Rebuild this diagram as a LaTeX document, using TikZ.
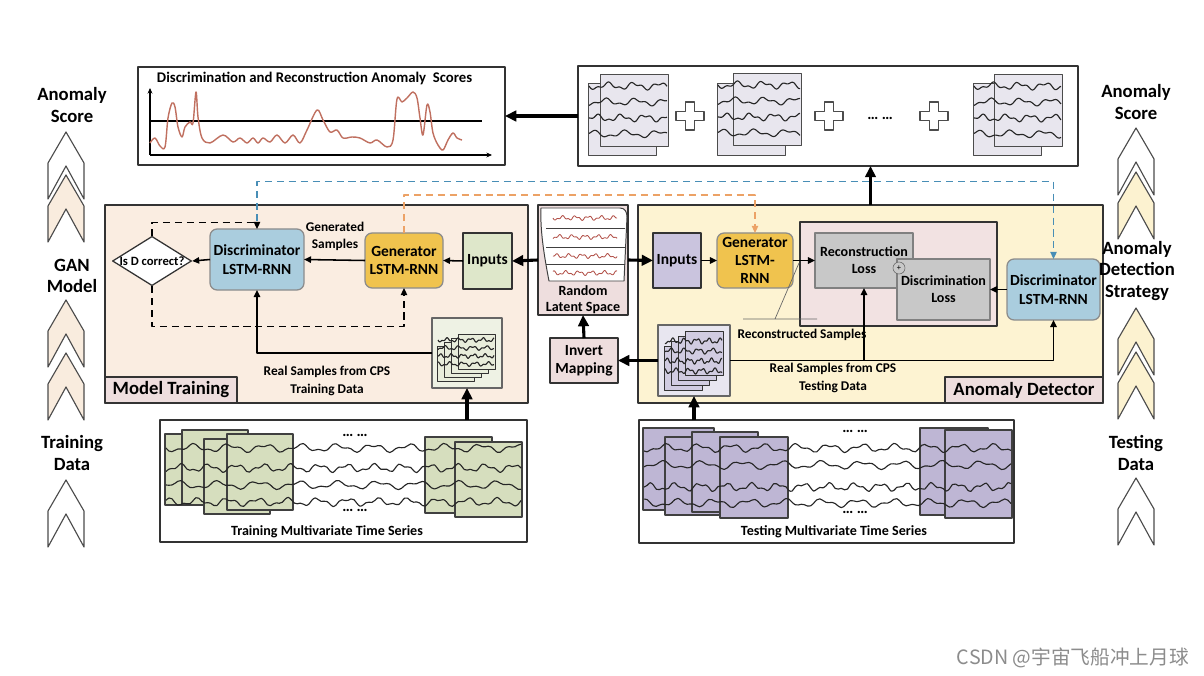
\documentclass[tikz,border=0pt]{standalone}
\usepackage{fontspec}
\setmainfont{Carlito}
\newfontfamily\wmfont{Noto Sans CJK SC}
\usetikzlibrary{arrows.meta,shapes.geometric}

\definecolor{trainbg}{RGB}{250,237,225}
\definecolor{detbg}{RGB}{253,243,210}
\definecolor{labbg}{RGB}{238,222,222}
\definecolor{lossbg}{RGB}{242,226,226}
\definecolor{lossfg}{RGB}{200,200,200}
\definecolor{discC}{RGB}{170,205,222}
\definecolor{genC}{RGB}{240,195,78}
\definecolor{inLC}{RGB}{222,231,202}
\definecolor{inRC}{RGB}{202,196,222}
\definecolor{chevL}{RGB}{249,236,222}
\definecolor{chevR}{RGB}{252,242,208}
\definecolor{pgTr}{RGB}{214,222,190}
\definecolor{pgTe}{RGB}{190,182,212}
\definecolor{pgSc}{RGB}{232,230,238}
\definecolor{icTrC}{RGB}{238,242,228}
\definecolor{icTeC}{RGB}{232,230,240}
\definecolor{curveC}{RGB}{192,112,96}
\definecolor{latC}{RGB}{178,80,72}
\definecolor{bdash}{RGB}{72,142,182}
\definecolor{odash}{RGB}{236,162,102}

\tikzset{
  box/.style={draw=black!80, line width=0.9pt, inner sep=0pt, outer sep=0pt},
  sz/.style 2 args={minimum width=#1*0.025cm, minimum height=#2*0.025cm},
  modbox/.style={box, draw=black!45, rounded corners=5pt, align=center, font=\fontsize{11}{13}\selectfont\bfseries},
  lossbox/.style={box, draw=black!50, fill=lossfg, align=center, font=\fontsize{10}{12}\selectfont\bfseries},
  bigtxt/.style={align=center, font=\fontsize{13.3}{15.2}\selectfont\bfseries},
  modtxt/.style={align=center, font=\fontsize{11}{13}\selectfont\bfseries},
  smalltxt/.style={align=center, font=\fontsize{9.5}{12.2}\selectfont\bfseries},
  dotstxt/.style={font=\fontsize{11}{11}\selectfont\bfseries},
  thk/.style={line width=2.2pt, -{Triangle[length=8pt,width=7.5pt]}},
  thn/.style={line width=1.1pt, -{Triangle[length=5pt,width=4.5pt]}},
  dsh/.style={line width=0.9pt, dash pattern=on 5pt off 3.5pt},
  wave/.style={line width=0.8pt, black!85},
  latw/.style={line width=0.6pt, latC},
}

% chevron: centre x, apex y, fill
\newcommand{\chev}[3]{\filldraw[fill=#3,draw=black!70,line width=0.8pt] (#1-18,#2+31) -- (#1,#2) -- (#1+18,#2+31) -- (#1+18,#2+67) -- (#1,#2+34) -- (#1-18,#2+67) -- cycle;}
% outlined plus sign
\newcommand{\crs}[2]{\filldraw[fill=white,draw=black!70,line width=0.8pt] (#1-4.5,#2-14) -- (#1+4.5,#2-14) -- (#1+4.5,#2-4.5) -- (#1+14,#2-4.5) -- (#1+14,#2+4.5) -- (#1+4.5,#2+4.5) -- (#1+4.5,#2+14) -- (#1-4.5,#2+14) -- (#1-4.5,#2+4.5) -- (#1-14,#2+4.5) -- (#1-14,#2-4.5) -- (#1-4.5,#2-4.5) -- cycle;}
% wiggly signal: [style] x1 x2 y freq phase amp
\newcommand{\wv}[7][wave]{\draw[#1] plot[domain=#2:#3,samples=120,smooth] (\x,{#4+#7*sin(#5*(\x-(#2))+#6)+0.55*#7*sin(2.3*#5*(\x-(#2))+2*#6)});}
% stack of four pages: front x, front y, w, h, dx, dy, fill
\newcommand{\stack}[7]{\foreach \k in {3,2,1,0} \filldraw[fill=#7,draw=black!80,line width=0.6pt] (#1-#5*\k,#2+#6*\k) rectangle ++(#3,#4);}

\begin{document}
\begin{tikzpicture}[x=0.025cm, y=-0.025cm, line join=round]
\fill[white] (0,0) rectangle (1204,676);
\useasboundingbox (0,0) rectangle (1204,676);

% anomaly score plot
\node (score) at (321.5,116) [box, sz={367}{98}] {};
\node (scT) at (152,78) [anchor=west, font=\fontsize{10.5}{12}\selectfont\bfseries] {Discrimination and Reconstruction Anomaly\ \ Scores};
\draw[line width=0.8pt, -{Stealth[length=4pt,width=3.5pt]}] (150,155) -- (150,88);
\draw[line width=0.8pt, -{Stealth[length=4pt,width=3.5pt]}] (150,155) -- (492,155);
\draw[line width=0.8pt] (150,121) -- (482,121);
\draw[curveC, line width=1pt] plot[smooth, tension=0.55] coordinates {(150,143) (155,138) (160,146) (165,147) (168,118) (172,103) (175,107) (178,127) (182,137) (185,127) (190,122) (193,123) (196,92) (198,117) (202,138) (210,143) (223,135) (233,142) (240,138) (247,143) (253,138) (258,143) (263,138) (270,142) (277,135) (285,143) (293,135) (300,143) (307,130) (317,110) (323,120) (330,132) (337,130) (343,138) (352,137) (360,138) (370,143) (377,140) (387,147) (393,140) (397,99) (402,102) (407,98) (413,92) (417,98) (420,118) (423,135) (427,105) (430,112) (433,133) (438,145) (443,150) (448,140) (453,133) (457,138) (462,140)};

% sample windows
\node (samp) at (828,116) [box, sz={500}{100}] {};
\foreach \bx/\fx/\fy in {588/600/74, 717/733/73, 973/994/74} {
  \filldraw[fill=pgSc,draw=black!70,line width=0.7pt] (\bx,83) rectangle ++(68,72);
  \filldraw[fill=pgSc,draw=black!70,line width=0.7pt] (\fx,\fy) rectangle ++(68,72);
  \foreach \k/\f/\p in {12/14/0, 28/12/70, 44/15/150, 60/11/230}
    \wv{\bx+1}{\fx+67}{\fy+\k}{\f}{\p}{2.6};
}
\crs{690}{116} \crs{829}{116} \crs{934}{116}
\node (sdots) at (880,118) [dotstxt] {… …};

% model training
\node (train) at (316.5,304) [box, fill=trainbg, sz={423}{198}] {};
\node (mtlab) at (171,390) [box, fill=labbg, sz={132}{26}, bigtxt] {Model Training};
\node (dia) at (152,261) [diamond, draw=black!80, line width=0.9pt, aspect=1.6, inner sep=0pt, fill=white, font=\fontsize{9}{10}\selectfont\bfseries] {Is D correct?};
\node (disL) at (257,259.5) [modbox, fill=discC, sz={94}{61}] {Discriminator\\LSTM-RNN};
\node (genL) at (404,260.5) [modbox, fill=genC, sz={78}{55}] {Generator\\LSTM-RNN};
\node (inL) at (487.5,261) [box, fill=inLC, sz={49}{56}, modtxt] {Inputs};
\node (gens) at (335,236) [smalltxt] {Generated\\Samples};
\node (icTr) at (467,353) [box, draw=black!60, fill=icTrC, sz={70}{70}] {};
\stack{458}{334}{37}{35}{7}{4}{pgTr!55}
\foreach \yy/\f/\p in {340/30/0, 348/26/90, 356/32/200, 364/28/300}
  \wv{438}{494}{\yy}{\f}{\p}{1.5};
\node (rsTr) at (327,381) [smalltxt] {Real Samples from CPS\\Training Data};

% latent space
\node (lat) at (583,260) [box, fill=labbg, sz={90}{110}] {};
\filldraw[fill=white, draw=black!75, line width=0.7pt] (549,281) .. controls (544,255) and (540,230) .. (541,208) -- (620,208) .. controls (625,208) and (627,212) .. (627,217) -- (624,281) -- cycle;
\foreach \yy in {228,247,264} \draw[line width=0.7pt, black!75] (546,\yy) -- (625,\yy);
\foreach \yy/\p in {218/0, 237/90, 256/180, 273/270}
  \wv[latw]{553}{617}{\yy}{28}{\p}{1.6};
\node (latT) at (583,300) [align=center, font=\fontsize{10}{11.5}\selectfont\bfseries] {Random\\Latent Space};
\node (inv) at (584,360.5) [box, fill=labbg, sz={68}{45}, modtxt] {Invert\\Mapping};

% anomaly detector
\node (det) at (870.5,304) [box, fill=detbg, sz={465}{198}] {};
\node (adlab) at (1024,390) [box, fill=labbg, sz={158}{26}, bigtxt] {Anomaly Detector};
\node (inR) at (677,260.5) [box, fill=inRC, sz={48}{55}, modtxt] {Inputs};
\node (genR) at (755,260.5) [modbox, fill=genC, sz={76}{55}] {Generator\\LSTM-\\RNN};
\node (lossC) at (898.5,274) [box, fill=lossbg, sz={197}{104}] {};
\node (recL) at (864,260.5) [lossbox, sz={98}{55}] {Reconstruction\\Loss};
\node (disLs) at (943.5,289.5) [lossbox, sz={93}{61}] {Discrimination\\Loss};
\node (oplus) at (899,268) [circle, draw=black!60, fill=lossfg, minimum size=12*0.025cm, inner sep=0pt, font=\fontsize{6}{6}\selectfont] {+};
\node (disR) at (1053.5,289.5) [modbox, fill=discC, sz={93}{61}] {Discriminator\\LSTM-RNN};
\node (icTe) at (694,360.5) [box, draw=black!60, fill=icTeC, sz={72}{71}] {};
\stack{685}{331}{38}{44}{7}{5}{pgTe!70}
\foreach \yy/\f/\p in {341/30/40, 351/26/120, 361/32/220, 371/28/320}
  \wv{665}{722}{\yy}{\f}{\p}{2};
\node (recS) at (802,335) [smalltxt] {Reconstructed Samples};
\draw[black!60, line width=0.5pt] (799,263) -- (775,319) (743,319) -- (817,319);
\node (rsTe) at (833,378) [smalltxt] {Real Samples from CPS\\Testing Data};

% multivariate time series
\node (trTS) at (343.5,481) [box, sz={367}{122}] {};
\foreach \a/\b/\c/\d in {165/434/225/505, 182/430/248/505, 204/439/270/514, 227/434/293/510, 425/437/492/513, 455/442/522/517}
  \filldraw[fill=pgTr, draw=black!75, line width=0.8pt] (\a,\b) rectangle (\c,\d);
\foreach \yy/\f/\p in {448/10/0, 468/13/80, 485/9/160, 502/12/250}
  \wv{166}{521}{\yy}{\f}{\p}{3};
\node (trd1) at (355,435) [dotstxt] {… …};
\node (trd2) at (355,510) [dotstxt] {… …};
\node (trT) at (327,532) [font=\fontsize{10}{12}\selectfont\bfseries] {Training Multivariate Time Series};

\node (teTS) at (826.5,481.5) [box, sz={375}{123}] {};
\foreach \a/\b/\c/\d in {643/428/714/510, 665/437/734/515, 692/432/758/512, 720/437/788/518, 920/428/988/515, 945/430/1012/518}
  \filldraw[fill=pgTe, draw=black!75, line width=0.8pt] (\a,\b) rectangle (\c,\d);
\foreach \yy/\f/\p in {448/11/30, 465/9/110, 487/14/200, 503/10/290}
  \wv{644}{1011}{\yy}{\f}{\p}{3};
\node (ted1) at (855,431) [dotstxt] {… …};
\node (ted2) at (855,512) [dotstxt] {… …};
\node (teT) at (834,532) [font=\fontsize{10}{12}\selectfont\bfseries] {Testing Multivariate Time Series};

% connectors
\draw[thk] (samp.west) -- (score.east);
\draw[thk] (det.north) -- (det.north |- samp.south);
\draw[thk] (lat.west) -- (inL.east);
\draw[thk] (lat.east) -- (inR.west);
\draw[thk] (inv.north) -- (lat.south);
\draw[thk] (icTe.west) -- (inv.east);
\draw[thk] (icTr.south |- trTS.north) -- (icTr.south);
\draw[thk] (icTe.south |- teTS.north) -- (icTe.south);
\draw[thn] (inL.west) -- (genL.east);
\draw[thn] (genL.west) -- (disL.east);
\draw[thn] (disL.west) -- (dia.east);
\draw[thn] (icTr.west) -| (disL.south);
\draw[thn] (inR.east) -- (genR.west);
\draw[thn] (genR.east) -- (recL.west);
\draw[thn] (disR.west) -- (disLs.east);
\draw[thn] (icTe.east) -| (disR.south);
\draw[thn] (recL.south |- icTe.east) -- (recL.south);
\draw[dsh, -{Triangle[length=5pt,width=4.5pt]}] (dia.north) -- ++(0,-13) -| (disL.north);
\draw[dsh, -{Triangle[length=5pt,width=4.5pt]}] (dia.south) -- ++(0,40) -| (genL.south);
\draw[dsh, bdash, -{Triangle[length=5pt,width=4.5pt]}] (disL.north) ++(0,-7.5) -- ++(0,-40) -| (disR.north);
\draw[dsh, odash, -{Triangle[length=5pt,width=4.5pt]}] (genL.north) -- ++(0,-38) -| (genR.north);

% side columns
\chev{66}{132}{white} \chev{66}{175}{chevL}
\chev{66}{300}{chevL} \chev{66}{353}{chevL}
\chev{66}{480}{white}
\node (lAS) at (72,105) [bigtxt] {Anomaly\\Score};
\node (lGM) at (72,276) [bigtxt] {GAN\\Model};
\node (lTD) at (72,453) [bigtxt] {Training\\Data};
\chev{1136}{128}{white} \chev{1136}{172}{chevR}
\chev{1136}{308}{chevR} \chev{1136}{352}{chevR}
\chev{1136}{478}{white}
\node (rAS) at (1136,102) [bigtxt] {Anomaly\\Score};
\node (rDS) at (1137,271) [bigtxt] {Anomaly\\Detection\\Strategy};
\node (rTD) at (1136,453) [bigtxt] {Testing\\Data};

\node (wm) at (1073,658) [text=black!45, font=\wmfont\fontsize{14}{14}\selectfont] {CSDN @宇宙飞船冲上月球};
\end{tikzpicture}
\end{document}
